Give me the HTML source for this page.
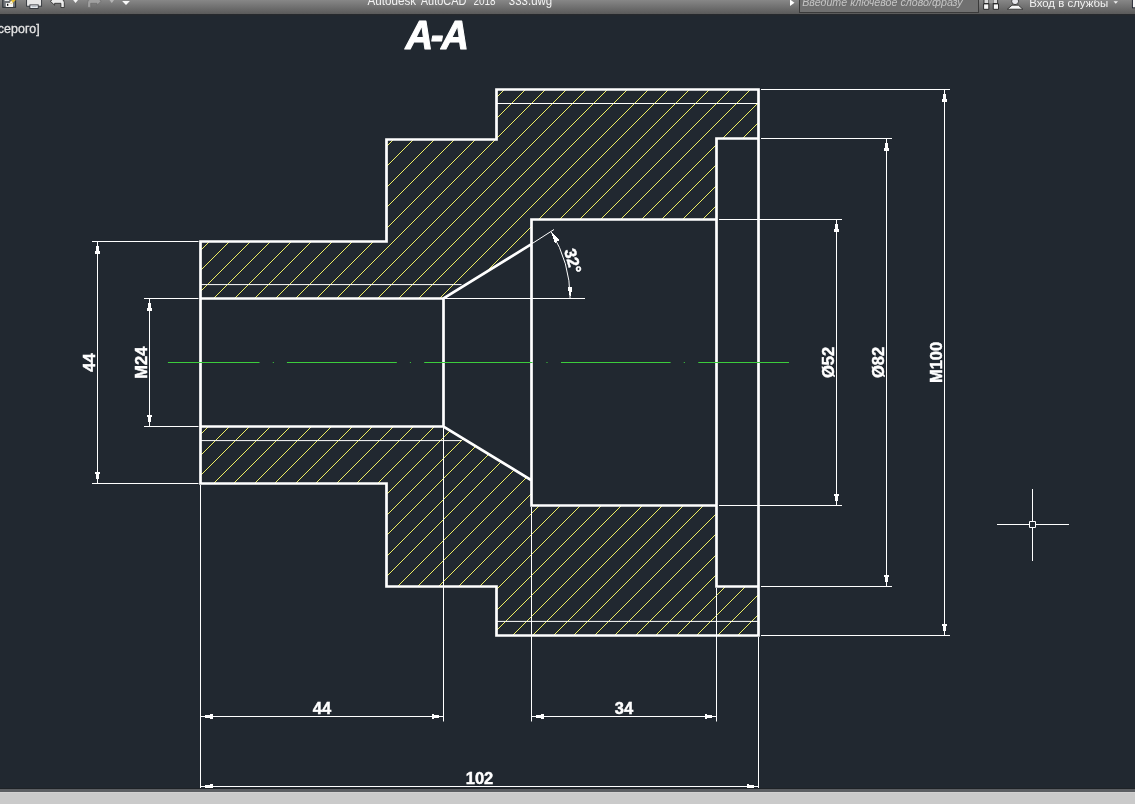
<!DOCTYPE html>
<html><head><meta charset="utf-8"><style>
html,body{margin:0;padding:0;background:#212830;overflow:hidden;width:1135px;height:804px}
svg{display:block;will-change:transform}
text{font-family:"Liberation Sans",sans-serif}
</style></head><body>
<svg width="1135" height="804" viewBox="0 0 1135 804">
<defs>
<linearGradient id="tb" x1="0" y1="0" x2="0" y2="1">
<stop offset="0" stop-color="#878787"/><stop offset="1" stop-color="#5a5a5a"/></linearGradient>
<linearGradient id="bb" x1="0" y1="0" x2="0" y2="1">
<stop offset="0" stop-color="#4a4e52"/><stop offset="1" stop-color="#9a9a9a"/></linearGradient>
<clipPath id="hc"><polygon points="200.50,241.50 386.50,241.50 386.50,139.50 496.50,139.50 496.50,89.50 758.50,89.50 758.50,138.50 716.50,138.50 716.50,219.50 531.50,219.50 531.50,244.10 443.50,298.50 200.50,298.50"/><polygon points="200.50,483.50 386.50,483.50 386.50,586.50 496.50,586.50 496.50,635.50 758.50,635.50 758.50,586.50 716.50,586.50 716.50,505.50 531.50,505.50 531.50,480.30 443.50,426.50 200.50,426.50"/></clipPath>
</defs>
<rect width="1135" height="804" fill="#212830"/>

<g clip-path="url(#hc)"><path d="M201.42 85L-353.58 640M221.93 85L-333.07 640M242.44 85L-312.56 640M262.95 85L-292.05 640M283.46 85L-271.54 640M303.97 85L-251.03 640M324.48 85L-230.52 640M344.99 85L-210.01 640M365.50 85L-189.50 640M386.01 85L-168.99 640M406.52 85L-148.48 640M427.03 85L-127.97 640M447.54 85L-107.46 640M468.05 85L-86.95 640M488.56 85L-66.44 640M509.07 85L-45.93 640M529.58 85L-25.42 640M550.09 85L-4.91 640M570.60 85L15.60 640M591.11 85L36.11 640M611.62 85L56.62 640M632.13 85L77.13 640M652.64 85L97.64 640M673.15 85L118.15 640M693.66 85L138.66 640M714.17 85L159.17 640M734.68 85L179.68 640M755.19 85L200.19 640M775.70 85L220.70 640M796.21 85L241.21 640M816.72 85L261.72 640M837.23 85L282.23 640M857.74 85L302.74 640M878.25 85L323.25 640M898.76 85L343.76 640M919.27 85L364.27 640M939.78 85L384.78 640M960.29 85L405.29 640M980.80 85L425.80 640M1001.31 85L446.31 640M1021.82 85L466.82 640M1042.33 85L487.33 640M1062.84 85L507.84 640M1083.35 85L528.35 640M1103.86 85L548.86 640M1124.37 85L569.37 640M1144.88 85L589.88 640M1165.39 85L610.39 640M1185.90 85L630.90 640M1206.41 85L651.41 640M1226.92 85L671.92 640M1247.43 85L692.43 640M1267.94 85L712.94 640M1288.45 85L733.45 640M1308.96 85L753.96 640" stroke="#f0f064" stroke-width="0.99" fill="none" shape-rendering="crispEdges"/></g>
<path d="M200.5 284.6H461.5M200.5 440.6H461.5M496.5 103.5H758.5M496.5 621.4H758.5M92 241.5H198.5M92 483.5H198.5M144 298.5H198.5M144 426.5H198.5M97.5 241.5V483.5M149.5 298.5V426.5M761 89.5H950M761 635.5H950M761 138.5H892M761 586.5H892M719 219.5H842M719 505.5H842M944.5 89.5V635.5M886.5 138.5V586.5M836.5 219.5V505.5M200.5 485V790M443.5 427V721.5M531.5 507V721.5M716.5 588V721.5M758.5 637V788M200.5 716.5H443.5M531.5 716.5H716.5M200.5 786.5H758.5M445 298.5H585M531.3 244.1L554 229.5" stroke="#fff" stroke-width="1" fill="none"/>
<path d="M570.10 298.40A126.6 126.6 0 0 0 551.21 231.88" stroke="#fff" stroke-width="1" fill="none"/>
<path d="M97.50 242.00L100.10 253.50L94.90 253.50ZM97.50 483.00L94.90 471.50L100.10 471.50ZM149.50 299.00L152.10 310.50L146.90 310.50ZM149.50 426.00L146.90 414.50L152.10 414.50ZM836.50 220.00L839.10 231.50L833.90 231.50ZM836.50 505.00L833.90 493.50L839.10 493.50ZM886.50 139.00L889.10 150.50L883.90 150.50ZM886.50 586.00L883.90 574.50L889.10 574.50ZM944.50 90.00L947.10 101.50L941.90 101.50ZM944.50 635.00L941.90 623.50L947.10 623.50ZM201.00 716.50L212.50 713.90L212.50 719.10ZM443.00 716.50L431.50 719.10L431.50 713.90ZM532.00 716.50L543.50 713.90L543.50 719.10ZM716.00 716.50L704.50 719.10L704.50 713.90ZM201.00 786.50L212.50 783.90L212.50 789.10ZM758.00 786.50L746.50 789.10L746.50 783.90ZM570.10 298.10L567.50 286.60L572.70 286.60ZM551.21 231.88L559.47 240.29L555.04 243.03Z" fill="#fff" shape-rendering="crispEdges"/>
<path d="M200.50 241.50L386.50 241.50L386.50 139.50L496.50 139.50L496.50 89.50L758.50 89.50L758.50 138.50M200.50 483.50L386.50 483.50L386.50 586.50L496.50 586.50L496.50 635.50L758.50 635.50L758.50 586.50M200.50 241.50L200.50 483.50M758.50 89.50L758.50 635.50M200.50 298.50L443.50 298.50L531.50 244.10L531.50 219.50L716.50 219.50L716.50 138.50L758.50 138.50M200.50 426.50L443.50 426.50L531.50 480.30L531.50 505.50L716.50 505.50L716.50 586.50L758.50 586.50M443.50 298.50L443.50 426.50M531.50 244.10L531.50 480.30M716.50 219.50L716.50 505.50" stroke="#fff" stroke-width="2.7" fill="none" stroke-linejoin="miter" stroke-linecap="square"/>
<path d="M167.9 362.5H259.5M286.9 362.5H396.8M424.2 362.5H532.5M561 362.5H670.6M698.3 362.5H789M272.8 362.5H273.8M409.9 362.5H410.9M546.5 362.5H547.5M683.8 362.5H684.8" stroke="#3ccc3c" stroke-width="1.15" fill="none"/>
<text transform="translate(95.1,362.5) rotate(-90)" text-anchor="middle" font-size="16.5" font-weight="bold" fill="#fff" stroke="#fff" stroke-width="0.45">44</text>
<text transform="translate(147.3,362.65) rotate(-90)" text-anchor="middle" font-size="16.5" font-weight="bold" fill="#fff" stroke="#fff" stroke-width="0.45">M24</text>
<text transform="translate(834.1,362.4) rotate(-90)" text-anchor="middle" font-size="16.5" font-weight="bold" fill="#fff" stroke="#fff" stroke-width="0.45">Ø52</text>
<text transform="translate(884.3,362.4) rotate(-90)" text-anchor="middle" font-size="16.5" font-weight="bold" fill="#fff" stroke="#fff" stroke-width="0.45">Ø82</text>
<text transform="translate(941.7,362.45) rotate(-90)" text-anchor="middle" font-size="16.5" font-weight="bold" fill="#fff" stroke="#fff" stroke-width="0.45">M100</text>
<text x="322" y="714" text-anchor="middle" font-size="16.5" font-weight="bold" fill="#fff" stroke="#fff" stroke-width="0.45">44</text>
<text x="623.9" y="713.7" text-anchor="middle" font-size="16.5" font-weight="bold" fill="#fff" stroke="#fff" stroke-width="0.45">34</text>
<text x="479.5" y="784" text-anchor="middle" font-size="16.5" font-weight="bold" fill="#fff" stroke="#fff" stroke-width="0.45">102</text>
<text transform="translate(567.5,262.5) rotate(74)" text-anchor="middle" font-size="16.5" font-weight="bold" fill="#fff" stroke="#fff" stroke-width="0.45">32°</text>
<text transform="translate(436,48.9) scale(0.93,1)" text-anchor="middle" font-size="41.2" font-weight="bold" font-style="italic" letter-spacing="-2.6" fill="#fff" stroke="#fff" stroke-width="1.1" stroke-linejoin="round">A-A</text>
<text x="-2.3" y="32.8" font-size="12.4" letter-spacing="0.1" fill="#e4e4e4" stroke="#e4e4e4" stroke-width="0.3">серого]</text>
<path d="M997 524.5H1029M1036 524.5H1069M1032.5 489V521M1032.5 528V561M1029.5 521.5h6v6h-6z" stroke="#fff" stroke-width="1" fill="none"/>
<rect x="0" y="0" width="1135" height="14" fill="url(#tb)"/>
<rect x="0" y="14" width="1135" height="1.5" fill="#26292d"/>
<text x="367.6" y="4.9" font-size="12" textLength="48.6" lengthAdjust="spacingAndGlyphs" fill="#f2f2f2">Autodesk</text>
<text x="420.8" y="4.9" font-size="12" textLength="45.6" lengthAdjust="spacingAndGlyphs" fill="#f2f2f2">AutoCAD</text>
<text x="473.4" y="4.9" font-size="12" textLength="22.2" lengthAdjust="spacingAndGlyphs" fill="#f2f2f2">2018</text>
<text x="508.8" y="4.9" font-size="12" textLength="43.4" lengthAdjust="spacingAndGlyphs" fill="#f2f2f2">333.dwg</text>
<rect x="799.5" y="-2" width="179" height="14.5" fill="#707070" stroke="#3a3a3a" stroke-width="1"/>
<text x="802.2" y="5.6" font-size="10.7" font-style="italic" fill="#c4c4c4">Введите ключевое слово/фразу</text>
<path d="M790 -0.5L794.5 2.8L790 6Z" fill="#fff"/>
<path d="M984 -1H988.7V3.6H984ZM993 -1H997.6V3.6H993Z" fill="#d8d8d8" stroke="#1e1e1e" stroke-width="0.8"/><rect x="988.7" y="-1" width="4.3" height="4.2" fill="#9a9a9a"/><path d="M983.6 3.9H988.8V9.3H983.6ZM993.3 3.9H998.5V9.3H993.3Z" fill="#f6f6f6" stroke="#1e1e1e" stroke-width="0.9"/>
<ellipse cx="1015.1" cy="1.2" rx="3.5" ry="3.4" fill="#e8e8ec" stroke="#222" stroke-width="0.8"/><path d="M1007.4 9.2L1012 5.2H1018.4L1022.8 9.2Z" fill="#f6f6f6" stroke="#222" stroke-width="0.8" stroke-linejoin="round"/>
<text x="1029.2" y="7" font-size="11.6" textLength="79" lengthAdjust="spacingAndGlyphs" fill="#f2f2f2">Вход в службы</text>
<path d="M1113.5 1.2H1118L1115.75 3.8Z" fill="#eee"/>
<rect x="1132.4" y="-1" width="4" height="8.8" fill="#f6f6f6" stroke="#1a1e2a" stroke-width="0.9"/>
<rect x="2.8" y="-2" width="12.8" height="9.3" fill="#707479" stroke="#262b31" stroke-width="1"/><rect x="4.6" y="-1" width="4.6" height="1.9" fill="#f4f4f4"/><rect x="5.8" y="3" width="7.2" height="4" fill="#f6f6f6"/><rect x="7" y="3.8" width="1.3" height="2" fill="#111"/><path d="M10.5 3.2L15.5 -1.5" stroke="#e8c030" stroke-width="2.6"/><path d="M10.6 3.1L12 1.6" stroke="#f4f4f4" stroke-width="2"/>
<rect x="26.6" y="-2" width="15" height="8.2" fill="#e8e8e8" stroke="#2c3036" stroke-width="0.9"/><rect x="29.9" y="4.9" width="8.3" height="3.6" fill="#f4f6fa" stroke="#2c3036" stroke-width="0.9"/><path d="M31.5 6.7H36.7" stroke="#9aa4b0" stroke-width="0.8"/>
<path d="M50.4 1.3L54.6 -2.6V-0.8H61.2Q64.3 -0.8 64.3 2.5V7.5H60.9V3.3H54.6V5.2Z" fill="#ececec" stroke="#262626" stroke-width="0.8"/>
<path d="M73.1 0H78L75.55 2.9Z" fill="#f4f4f4"/>
<path d="M101.2 1.3L97 -2.6V-0.8H90.6Q87.6 -0.8 87.6 2.5V7.4H90.7V3.3H97V5.2Z" fill="#a0a0a0" stroke="#6a6a6a" stroke-width="0.7"/>
<path d="M109.5 0H114.1L111.8 2.9Z" fill="#b4b4b4"/>
<path d="M122.1 0.9H129.9L126 4.9Z" fill="#f8f8f8"/>
<rect x="0" y="788" width="1135" height="1" fill="#1e2226"/>
<rect x="0" y="789" width="1135" height="3" fill="#5b5e62"/>
<rect x="0" y="792" width="1135" height="1" fill="#d2d1d1"/>
<rect x="0" y="793" width="1135" height="11" fill="#cacaca"/>
</svg></body></html>
